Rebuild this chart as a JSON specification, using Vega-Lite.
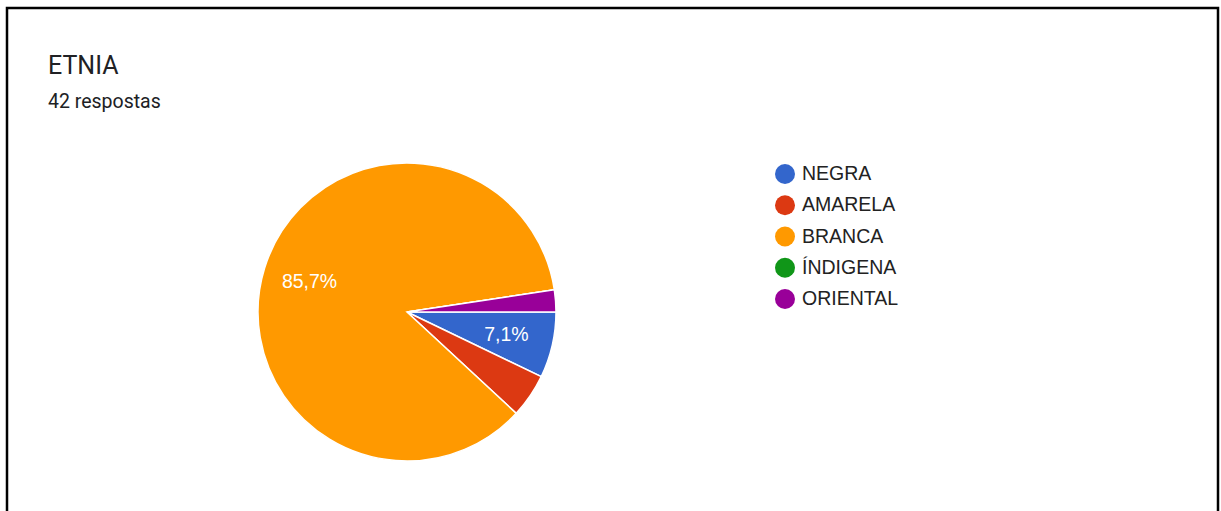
{
  "$schema": "https://vega.github.io/schema/vega-lite/v6.json",
  "autosize": {"type": "none"},
  "padding": {"left": 7, "top": 8, "right": 3, "bottom": 0},
  "width": 1211,
  "height": 608,
  "background": "white",
  "view": {"stroke": "#000000", "strokeWidth": 2.5, "fill": "white"},
  "title": {
    "text": "ETNIA",
    "subtitle": "42 respostas",
    "anchor": "start",
    "frame": "group",
    "orient": "top",
    "offset": 0,
    "dx": 41,
    "dy": 103,
    "font": "Roboto",
    "fontSize": 25,
    "fontWeight": "normal",
    "color": "#202124",
    "subtitleFont": "Roboto",
    "subtitleFontSize": 19.5,
    "subtitleColor": "#202124",
    "subtitlePadding": 14
  },
  "data": {
    "values": [
      {"etnia": "NEGRA", "respostas": 3, "ordem": 1, "rotulo": "7,1%"},
      {"etnia": "AMARELA", "respostas": 2, "ordem": 2, "rotulo": ""},
      {"etnia": "BRANCA", "respostas": 36, "ordem": 3, "rotulo": "85,7%"},
      {"etnia": "ÍNDIGENA", "respostas": 0, "ordem": 4, "rotulo": ""},
      {"etnia": "ORIENTAL", "respostas": 1, "ordem": 5, "rotulo": ""}
    ]
  },
  "encoding": {
    "theta": {"field": "respostas", "type": "quantitative", "stack": true, "scale": {"range": [1.5707963, 7.8539816]}},
    "order": {"field": "ordem", "type": "quantitative"}
  },
  "layer": [
    {
      "mark": {"type": "arc", "outerRadius": 149, "stroke": "white", "strokeWidth": 1.5, "x": {"expr": "width * 0.3303"}, "y": {"expr": "height / 2"}},
      "encoding": {
        "color": {
          "field": "etnia",
          "type": "nominal",
          "scale": {
            "domain": ["NEGRA", "AMARELA", "BRANCA", "ÍNDIGENA", "ORIENTAL"],
            "range": ["#3366CC", "#DC3912", "#FF9900", "#109618", "#990099"]
          },
          "legend": {
            "title": null,
            "orient": "none",
            "legendX": 768,
            "legendY": 156,
            "symbolType": "circle",
            "symbolSize": 400,
            "symbolStrokeWidth": 0,
            "symbolOpacity": 1,
            "labelFont": "Liberation Sans",
            "labelFontSize": 19.5,
            "labelColor": "#222222",
            "labelOffset": 7,
            "rowPadding": 11.25,
            "padding": 0
          }
        }
      }
    },
    {
      "mark": {"type": "text", "radius": 102, "font": "Liberation Sans", "fontSize": 19.5, "color": "white", "x": {"expr": "width * 0.3303"}, "y": {"expr": "height / 2"}},
      "encoding": {
        "text": {"field": "rotulo", "type": "nominal"}
      }
    }
  ],
  "config": {
    "view": {"stroke": "#000000", "strokeWidth": 2.5}
  }
}
